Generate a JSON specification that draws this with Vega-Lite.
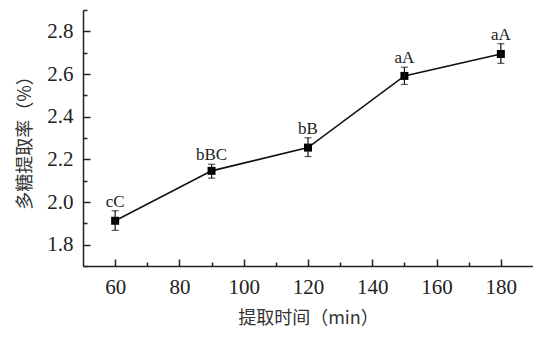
{
  "$schema": "https://vega.github.io/schema/vega-lite/v6.json",
  "width": 450,
  "height": 256,
  "autosize": {"type": "none"},
  "padding": {"left": 83, "top": 10, "right": 0, "bottom": 72},
  "background": "white",
  "config": {
    "view": {"stroke": null},
    "axis": {
      "domainColor": "#222",
      "domainWidth": 1.5,
      "tickColor": "#222",
      "tickWidth": 1.5,
      "grid": false,
      "labelFont": "Liberation Serif",
      "labelFontSize": 21,
      "labelColor": "#222",
      "titleFont": "Noto Sans CJK SC",
      "titleFontSize": 18,
      "titleFontWeight": "normal",
      "titleColor": "#333"
    }
  },
  "data": {
    "values": [
      {"t": 60, "y": 1.912, "lo": 1.867, "hi": 1.959, "g": "cC"},
      {"t": 90, "y": 2.146, "lo": 2.112, "hi": 2.177, "g": "bBC"},
      {"t": 120, "y": 2.255, "lo": 2.213, "hi": 2.301, "g": "bB"},
      {"t": 150, "y": 2.591, "lo": 2.551, "hi": 2.632, "g": "aA"},
      {"t": 180, "y": 2.694, "lo": 2.65, "hi": 2.742, "g": "aA"}
    ]
  },
  "encoding": {
    "x": {
      "field": "t",
      "type": "quantitative",
      "scale": {"domain": [50, 190], "nice": false, "zero": false},
      "axis": {
        "title": "提取时间（min）",
        "values": [60, 70, 80, 90, 100, 110, 120, 130, 140, 150, 160, 170, 180],
        "labelExpr": "datum.value % 20 == 0 ? datum.label : ''",
        "tickSize": {"condition": {"test": "datum.value % 20 == 0", "value": -7}, "value": -4},
        "labelPadding": 17,
        "titlePadding": 12
      }
    }
  },
  "layer": [
    {
      "mark": {
        "type": "line",
        "color": "#111",
        "strokeWidth": 1.6,
        "point": {"shape": "square", "size": 64, "filled": true, "color": "#000", "opacity": 1}
      },
      "encoding": {
        "y": {
          "field": "y",
          "type": "quantitative",
          "scale": {"domain": [1.7, 2.9], "nice": false, "zero": false},
          "axis": {
            "title": "多糖提取率（%）",
            "values": [1.7, 1.8, 1.9, 2.0, 2.1, 2.2, 2.3, 2.4, 2.5, 2.6, 2.7, 2.8, 2.9],
            "labelExpr": "round(datum.value * 10) % 2 == 0 ? format(datum.value, '.1f') : ''",
            "tickSize": {"condition": {"test": "round(datum.value * 10) % 2 == 0", "value": -7}, "value": -4},
            "labelPadding": 17,
            "titlePadding": 12
          }
        }
      }
    },
    {
      "mark": {"type": "rule", "color": "#111", "strokeWidth": 1.2},
      "encoding": {
        "y": {
          "field": "lo",
          "type": "quantitative",
          "scale": {"domain": [1.7, 2.9], "nice": false, "zero": false},
          "axis": {
            "title": "多糖提取率（%）",
            "values": [1.7, 1.8, 1.9, 2.0, 2.1, 2.2, 2.3, 2.4, 2.5, 2.6, 2.7, 2.8, 2.9],
            "labelExpr": "round(datum.value * 10) % 2 == 0 ? format(datum.value, '.1f') : ''",
            "tickSize": {"condition": {"test": "round(datum.value * 10) % 2 == 0", "value": -7}, "value": -4},
            "labelPadding": 17,
            "titlePadding": 12
          }
        },
        "y2": {"field": "hi"}
      }
    },
    {
      "mark": {"type": "tick", "orient": "horizontal", "size": 7, "thickness": 1.2, "color": "#111"},
      "encoding": {
        "y": {
          "field": "lo",
          "type": "quantitative",
          "scale": {"domain": [1.7, 2.9], "nice": false, "zero": false},
          "axis": {
            "title": "多糖提取率（%）",
            "values": [1.7, 1.8, 1.9, 2.0, 2.1, 2.2, 2.3, 2.4, 2.5, 2.6, 2.7, 2.8, 2.9],
            "labelExpr": "round(datum.value * 10) % 2 == 0 ? format(datum.value, '.1f') : ''",
            "tickSize": {"condition": {"test": "round(datum.value * 10) % 2 == 0", "value": -7}, "value": -4},
            "labelPadding": 17,
            "titlePadding": 12
          }
        }
      }
    },
    {
      "mark": {"type": "tick", "orient": "horizontal", "size": 7, "thickness": 1.2, "color": "#111"},
      "encoding": {
        "y": {
          "field": "hi",
          "type": "quantitative",
          "scale": {"domain": [1.7, 2.9], "nice": false, "zero": false},
          "axis": {
            "title": "多糖提取率（%）",
            "values": [1.7, 1.8, 1.9, 2.0, 2.1, 2.2, 2.3, 2.4, 2.5, 2.6, 2.7, 2.8, 2.9],
            "labelExpr": "round(datum.value * 10) % 2 == 0 ? format(datum.value, '.1f') : ''",
            "tickSize": {"condition": {"test": "round(datum.value * 10) % 2 == 0", "value": -7}, "value": -4},
            "labelPadding": 17,
            "titlePadding": 12
          }
        }
      }
    },
    {
      "mark": {"type": "text", "font": "Liberation Serif", "fontSize": 17, "color": "#222", "baseline": "alphabetic", "dy": -4},
      "encoding": {
        "y": {
          "field": "hi",
          "type": "quantitative",
          "scale": {"domain": [1.7, 2.9], "nice": false, "zero": false},
          "axis": {
            "title": "多糖提取率（%）",
            "values": [1.7, 1.8, 1.9, 2.0, 2.1, 2.2, 2.3, 2.4, 2.5, 2.6, 2.7, 2.8, 2.9],
            "labelExpr": "round(datum.value * 10) % 2 == 0 ? format(datum.value, '.1f') : ''",
            "tickSize": {"condition": {"test": "round(datum.value * 10) % 2 == 0", "value": -7}, "value": -4},
            "labelPadding": 17,
            "titlePadding": 12
          }
        },
        "text": {"field": "g"}
      }
    }
  ]
}
